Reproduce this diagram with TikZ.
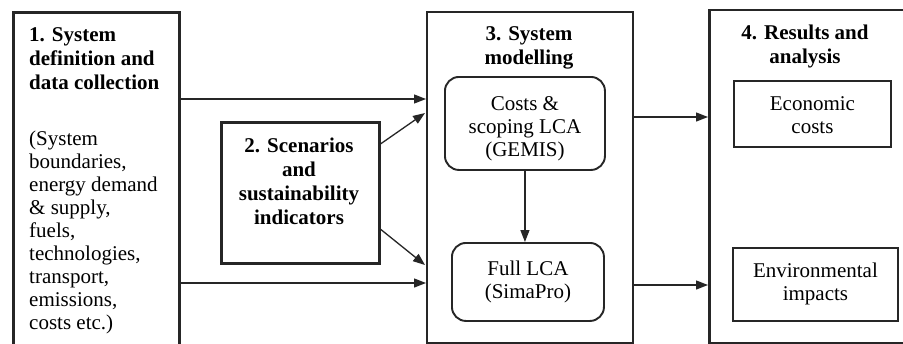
\documentclass[tikz,border=0pt]{standalone}
\usepackage{fontspec}
\setmainfont{Liberation Serif}
\usetikzlibrary{arrows.meta}

\tikzset{
  panel/.style={draw=black!85, line width=2.6pt, anchor=north west, inner sep=0pt},
  inbox/.style={draw=black!85, line width=1.9pt, anchor=north west, inner sep=0pt},
  rinbox/.style={inbox, rounded corners=14pt},
  txt/.style={font=\fontsize{21}{23}\selectfont, align=center, inner sep=0pt},
  btxt/.style={txt, font=\fontsize{21}{24}\selectfont\bfseries},
  flow/.style={draw=black!85, line width=1.3pt, -{Triangle[length=12pt,width=9pt]}}
}

\begin{document}
\begin{tikzpicture}[x=1pt,y=-1pt]
\clip (0,0) rectangle (903,343);
\fill[white] (0,0) rectangle (903,343);

% main stages
\node[panel, minimum width=166pt, minimum height=350pt] (b1) at (12,11) {};
\node[panel, line width=3pt, minimum width=158pt, minimum height=141pt] (b2) at (220,121) {};
\node[panel, line width=2.3pt, minimum width=206pt, minimum height=331pt] (b3) at (426,10.5) {};
\node[panel, minimum width=220pt, minimum height=333pt] (b4) at (708,8.5) {};

% stage 1 text
\node[btxt, align=left, anchor=north west] (t1) at (29,27)
  {1. System\\definition and\\data collection};
\node[txt, align=left, anchor=north west] (d1) at (29,131)
  {(System\\boundaries,\\energy demand\\\&~supply,\\fuels,\\technologies,\\transport,\\emissions,\\costs etc.)};

% stage 2 text
\node[btxt] (t2) at (299,181) {2. Scenarios\\and\\sustainability\\indicators};

% stage 3
\node[btxt] (t3) at (529,47.5) {3. System\\modelling};
\node[rinbox, minimum width=160pt, minimum height=93pt] (gemis) at (444,76) {};
\node[txt] (gt) at ([yshift=-5pt]gemis.center) {Costs \&\\scoping LCA\\(GEMIS)};
\node[rinbox, minimum width=152pt, minimum height=78pt] (sima) at (451,242) {};
\node[txt] (st) at (sima.center) {Full LCA\\(SimaPro)};

% stage 4
\node[btxt] (t4) at (805,46) {4. Results and\\analysis};
\node[inbox, minimum width=157pt, minimum height=66pt] (eco) at (733,80) {};
\node[txt] (et) at ([yshift=-1.5pt]eco.center) {Economic\\costs};
\node[inbox, minimum width=165pt, minimum height=73pt] (env) at (732,247) {};
\node[txt] (vt) at ([yshift=1pt]env.center) {Environmental\\impacts};

% flow levels
\coordinate (yA) at (0,99);
\coordinate (yB) at (0,283);
\coordinate (yC) at (0,117);
\coordinate (yD) at (0,285);
\coordinate (s2a) at (379,145);
\coordinate (s2b) at (379,228);
\coordinate (e3a) at (425,113);
\coordinate (e3b) at (425,265);

% connectors
\draw[flow] (b1.east |- yA) -- (b3.west |- yA);
\draw[flow] (b1.east |- yB) -- (b3.west |- yB);
\draw[flow] (s2a) -- (e3a);
\draw[flow] (s2b) -- (e3b);
\draw[flow] (gemis.south) -- (sima.north -| gemis.south);
\draw[flow] (b3.east |- yC) -- (b4.west |- yC);
\draw[flow] (b3.east |- yD) -- (b4.west |- yD);
\end{tikzpicture}
\end{document}
